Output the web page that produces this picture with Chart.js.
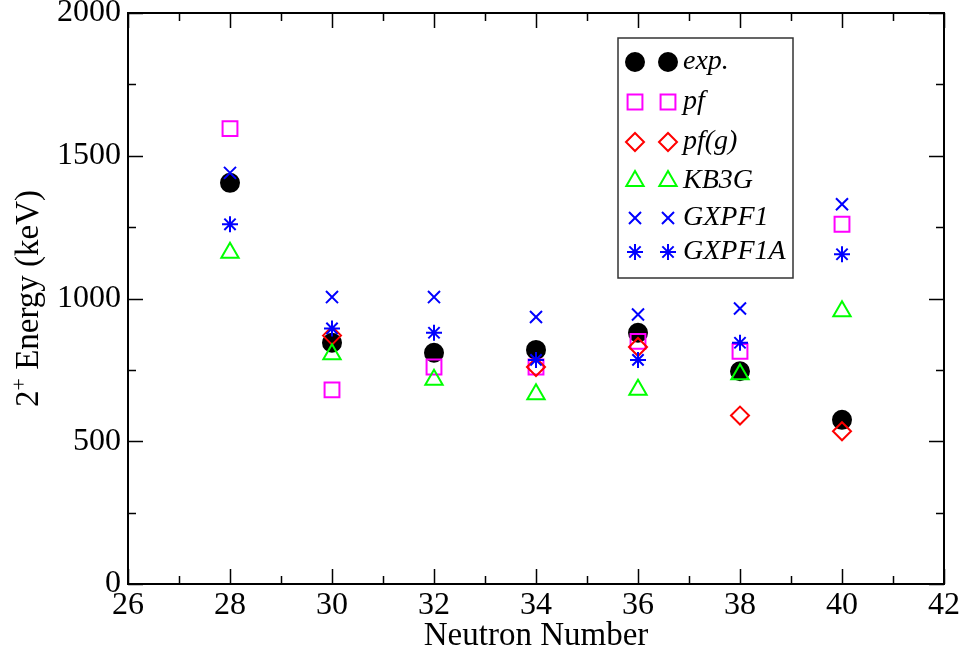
<!DOCTYPE html>
<html>
<head>
<meta charset="utf-8">
<script src="https://cdn.jsdelivr.net/npm/chart.js@4/dist/chart.umd.min.js"></script>
<style>
  html, body { margin: 0; padding: 0; background: #fff; }
  #wrap { width: 965px; height: 653px; position: relative; }
</style>
</head>
<body>
<div id="wrap"><canvas id="c"></canvas></div>
<script>
// Neutron numbers and 2+ energies (keV) per interaction
const neutrons = [28, 30, 32, 34, 36, 38, 40];
const expE    = [1405, 845, 810, 820, 880, 745, 575];
const pfE     = [1595, 680, 760, 760, 850, 815, 1260];
const pfgE    = [null, 870, null, 760, 830, 590, 535];
const kb3gE   = [1160, 805, 715, 665, 680, 735, 955];
const gxpf1E  = [1440, 1005, 1005, 935, 944, 965, 1330];
const gxpf1aE = [1260, 895, 880, 785, 785, 845, 1155];

const xTicks = [26, 28, 30, 32, 34, 36, 38, 40, 42];
const yTicks = [0, 500, 1000, 1500, 2000];

const FONT = "'Liberation Serif', 'Times New Roman', serif";

function pts(vals) {
    return neutrons.map((n, i) => ({ x: n, y: vals[i] })).filter(p => p.y !== null);
}

function series(label, vals, style, color, radius, filled, order) {
    return {
        label: label,
        data: pts(vals),
        pointStyle: style,
        pointRadius: radius,
        pointHoverRadius: radius,
        pointBorderWidth: 2,
        borderColor: color,
        backgroundColor: filled ? color : 'transparent',
        showLine: false,
        order: order
    };
}

const datasets = [
    series('exp.', expE, 'circle', '#000000', 9, true, 6),
    series('pf', pfE, 'rect', '#ff00ff', 10.5, false, 5),
    series('pf(g)', pfgE, 'rectRot', '#ff0000', 9, false, 4),
    series('KB3G', kb3gE, 'triangle', '#00ff00', 10, false, 3),
    series('GXPF1', gxpf1E, 'crossRot', '#0000ff', 8.5, false, 2),
    series('GXPF1A', gxpf1aE, 'star', '#0000ff', 8, false, 1)
];

// frame, inward ticks on all four sides, axis titles and the boxed legend
const frame = {
    id: 'frame',
    afterDatasetsDraw(chart) {
        const { ctx, chartArea: a, scales: { x, y } } = chart;
        ctx.save();
        ctx.strokeStyle = '#000';
        ctx.lineWidth = 2;
        ctx.strokeRect(a.left, a.top, a.right - a.left, a.bottom - a.top);

        ctx.lineWidth = 1.5;
        ctx.beginPath();
        for (let v = 26; v <= 42; v += 1) {
            const px = Math.round(x.getPixelForValue(v)) + 0.5;
            const len = v % 2 === 0 ? 15 : 8;
            ctx.moveTo(px, a.bottom); ctx.lineTo(px, a.bottom - len);
            ctx.moveTo(px, a.top); ctx.lineTo(px, a.top + len);
        }
        for (let v = 0; v <= 2000; v += 250) {
            const py = Math.round(y.getPixelForValue(v)) + 0.5;
            const len = v % 500 === 0 ? 15 : 8;
            ctx.moveTo(a.left, py); ctx.lineTo(a.left + len, py);
            ctx.moveTo(a.right, py); ctx.lineTo(a.right - len, py);
        }
        ctx.stroke();

        // axis titles
        ctx.fillStyle = '#000';
        ctx.font = '33px ' + FONT;
        ctx.textAlign = 'center';
        ctx.textBaseline = 'alphabetic';
        ctx.fillText('Neutron Number', (a.left + a.right) / 2, 645);

        ctx.save();
        ctx.translate(38, (a.top + a.bottom) / 2);
        ctx.rotate(-Math.PI / 2);
        const main = ' Energy (keV)';
        ctx.font = '33px ' + FONT;
        const w2 = ctx.measureText('2').width;
        const wm = ctx.measureText(main).width;
        ctx.font = '22px ' + FONT;
        const wp = ctx.measureText('+').width;
        const start = -(w2 + wp + wm) / 2;
        ctx.textAlign = 'left';
        ctx.font = '33px ' + FONT;
        ctx.fillText('2', start, 0);
        ctx.font = '22px ' + FONT;
        ctx.fillText('+', start + w2, -12);
        ctx.font = '33px ' + FONT;
        ctx.fillText(main, start + w2 + wp, 0);
        ctx.restore();

        // legend box
        const bx = 618, by = 38, bw = 175, bh = 240;
        ctx.fillStyle = '#fff';
        ctx.fillRect(bx, by, bw, bh);
        ctx.lineWidth = 1.5;
        ctx.strokeStyle = '#333';
        ctx.strokeRect(bx, by, bw, bh);
        const rowY = [62, 102, 142, 181, 218, 252];
        chart.data.datasets.forEach((ds, i) => {
            const opts = {
                pointStyle: ds.pointStyle,
                radius: ds.pointRadius,
                rotation: 0,
                borderWidth: ds.pointBorderWidth
            };
            [635, 668].forEach(px => {
                ctx.fillStyle = ds.backgroundColor;
                ctx.strokeStyle = ds.borderColor;
                ctx.lineWidth = ds.pointBorderWidth;
                Chart.helpers.drawPoint(ctx, opts, px, rowY[i]);
            });
            ctx.fillStyle = '#000';
            ctx.font = 'italic 28px ' + FONT;
            ctx.textAlign = 'left';
            ctx.textBaseline = 'middle';
            ctx.fillText(ds.label, 683, rowY[i]);
        });
        ctx.restore();
    }
};

new Chart(document.getElementById('c'), {
    type: 'scatter',
    data: { datasets: datasets },
    plugins: [frame],
    options: {
        responsive: true,
        maintainAspectRatio: false,
        animation: false,
        events: [],
        layout: { padding: { top: 13, right: 21, left: 0, bottom: 0 } },
        plugins: {
            legend: { display: false },
            tooltip: { enabled: false }
        },
        scales: {
            x: {
                type: 'linear',
                min: 26,
                max: 42,
                afterBuildTicks: s => { s.ticks = xTicks.map(v => ({ value: v })); },
                afterFit: s => { s.height = 69; s.paddingLeft = 0; s.paddingRight = 0; },
                grid: { display: false, drawTicks: false },
                border: { display: false },
                ticks: {
                    color: '#000',
                    padding: 2,
                    maxRotation: 0,
                    autoSkip: false,
                    callback: v => String(v),
                    font: { family: FONT, size: 32 }
                }
            },
            y: {
                type: 'linear',
                min: 0,
                max: 2000,
                afterBuildTicks: s => { s.ticks = yTicks.map(v => ({ value: v })); },
                afterFit: s => { s.width = 128; s.paddingTop = 0; s.paddingBottom = 0; },
                grid: { display: false, drawTicks: false },
                border: { display: false },
                ticks: {
                    color: '#000',
                    padding: 7,
                    autoSkip: false,
                    callback: v => String(v),
                    font: { family: FONT, size: 32 }
                }
            }
        }
    }
});
</script>
</body>
</html>
